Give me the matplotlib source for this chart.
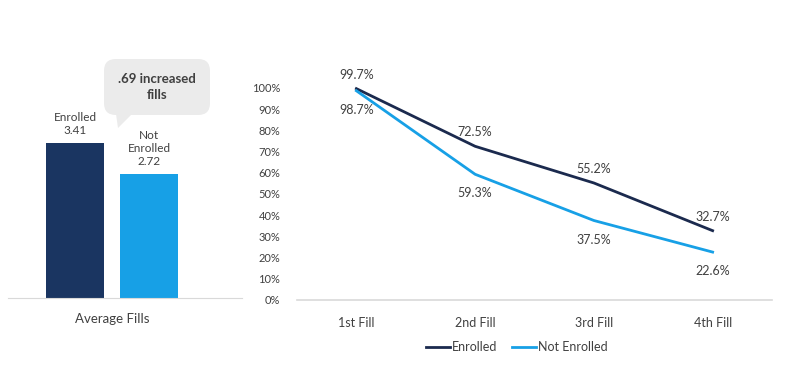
import matplotlib
matplotlib.use("Agg")
import matplotlib.pyplot as plt
from matplotlib.patches import FancyBboxPatch, Polygon

plt.rcParams['font.family'] = ['Lato', 'DejaVu Sans']

# data
bar_labels = ['Enrolled\n3.41', 'Not\nEnrolled\n2.72']
bar_values = [3.41, 2.72]
bar_category = 'Average Fills'
callout_text = '.69 increased\nfills'

fills = ['1st Fill', '2nd Fill', '3rd Fill', '4th Fill']
enrolled = [99.7, 72.5, 55.2, 32.7]
not_enrolled = [98.7, 59.3, 37.5, 22.6]

navy = '#1a3561'
navy_line = '#1b2a4e'
blue = '#17a0e6'
grey_text = '#404040'
axis_grey = '#d9d9d9'

W, H = 789, 377
fig = plt.figure(figsize=(W / 100, H / 100), dpi=100)


def px_axes(x0, y0, x1, y1):
    # pixel box (top-left origin) -> figure axes
    return fig.add_axes([x0 / W, 1 - y1 / H, (x1 - x0) / W, (y1 - y0) / H])


# ---- left: bar chart
ax1 = px_axes(8, 116, 242, 298)
ax1.bar([0, 1], bar_values, width=0.784, color=[navy, blue])
ax1.set_xlim(-0.905, 2.257)
ax1.set_ylim(0, 4)
for s in ['top', 'right', 'left']:
    ax1.spines[s].set_visible(False)
ax1.spines['bottom'].set_color(axis_grey)
ax1.set_yticks([])
ax1.set_xticks([0.5])
ax1.set_xticklabels([bar_category], fontsize=9.5, color=grey_text)
ax1.tick_params(axis='x', length=0, pad=11)
for i, (lab, v) in enumerate(zip(bar_labels, bar_values)):
    ax1.annotate(lab, (i, v), xytext=(0, 7), textcoords='offset pixels',
                 ha='center', va='bottom', fontsize=8.5, color=grey_text,
                 linespacing=1.25)

# callout bubble
bx0, by0, bx1, by1 = 104 / W, 1 - 115 / H, 210 / W, 1 - 59 / H
bubble = FancyBboxPatch((bx0, by0), bx1 - bx0, by1 - by0,
                        boxstyle='round,pad=0,rounding_size=0.015',
                        transform=fig.transFigure, facecolor='#ebebeb',
                        edgecolor='none', mutation_aspect=W / H)
fig.patches.append(bubble)
tail = Polygon([(116 / W, 1 - 114 / H), (132 / W, 1 - 114 / H), (118 / W, 1 - 128 / H)],
               closed=True, transform=fig.transFigure, facecolor='#ebebeb',
               edgecolor='none')
fig.patches.append(tail)
fig.text(157 / W, 1 - 87 / H, callout_text, ha='center', va='center',
         fontsize=9.5, fontweight='bold', color=grey_text, linespacing=1.35)

# ---- right: line chart
ax2 = px_axes(297, 88, 772, 300)
x = list(range(len(fills)))
ax2.plot(x, enrolled, color=navy_line, lw=2.0, label='Enrolled', clip_on=False)
ax2.plot(x, not_enrolled, color=blue, lw=2.0, label='Not Enrolled', clip_on=False)
ax2.set_xlim(-0.5, 3.5)
ax2.set_ylim(0, 100)
ax2.set_yticks(range(0, 101, 10))
ax2.set_yticklabels([f'{v}%' for v in range(0, 101, 10)], fontsize=8, color=grey_text)
ax2.set_xticks(x)
ax2.set_xticklabels(fills, fontsize=9, color=grey_text)
ax2.tick_params(axis='y', length=0, pad=12)
ax2.tick_params(axis='x', length=0, pad=12)
for s in ['top', 'right', 'left']:
    ax2.spines[s].set_visible(False)
ax2.spines['bottom'].set_color(axis_grey)
ax2.spines['bottom'].set_linewidth(1.2)

for i in x:
    ax2.annotate(f'{enrolled[i]:.1f}%', (i, enrolled[i]), xytext=(0, 14),
                 textcoords='offset pixels', ha='center', va='center',
                 fontsize=9, color=grey_text, annotation_clip=False)
    ax2.annotate(f'{not_enrolled[i]:.1f}%', (i, not_enrolled[i]), xytext=(0, -19),
                 textcoords='offset pixels', ha='center', va='center',
                 fontsize=9, color=grey_text, annotation_clip=False)

leg = ax2.legend(loc='center', bbox_to_anchor=(517 / W, 1 - 347 / H),
                 bbox_transform=fig.transFigure, ncol=2, frameon=False,
                 fontsize=9, handlelength=1.9, handletextpad=0.15,
                 columnspacing=1.2)
for t in leg.get_texts():
    t.set_color(grey_text)

fig.savefig('out.png', dpi=100)
